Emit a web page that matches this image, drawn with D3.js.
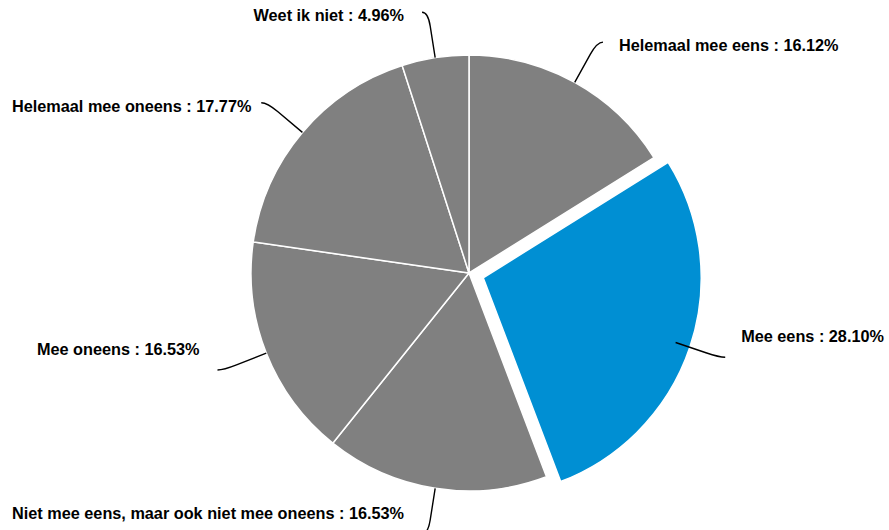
<!DOCTYPE html>
<html>
<head>
<meta charset="utf-8">
<script src="https://cdn.jsdelivr.net/npm/d3@7"></script>
<style>
  html, body { margin: 0; padding: 0; background: #ffffff; }
  svg { display: block; }
  text { font-family: "Liberation Sans", Arial, sans-serif; font-weight: bold; fill: #000; }
</style>
</head>
<body>
<svg id="chart" width="889" height="530"></svg>
<script>
// ---- data ----
const categories = [
  "Helemaal mee eens",
  "Mee eens",
  "Niet mee eens, maar ook niet mee oneens",
  "Mee oneens",
  "Helemaal mee oneens",
  "Weet ik niet"
];
const percentages = [16.12, 28.10, 16.53, 16.53, 17.77, 4.96];
const highlighted = "Mee eens";

// ---- layout ----
const W = 889, H = 530;
const cx = 469, cy = 273, radius = 218;
const slicedOffset = 15;
const labelRadius = 264;
const crook = 6;
const fontSize = 16.25;
const grey = "#808080", blue = "#008fd3";

const svg = d3.select("#chart");
const g = svg.append("g").attr("transform", `translate(${cx},${cy})`);

const data = categories.map((c, i) => ({ category: c, value: percentages[i] }));
const pie = d3.pie().sort(null).value(d => d.value).startAngle(0).endAngle(2 * Math.PI);
const arcs = pie(data);
const arc = d3.arc().innerRadius(0).outerRadius(radius);

const dirOf = a => [Math.sin(a), -Math.cos(a)];

// slices
g.selectAll("path.slice")
  .data(arcs)
  .join("path")
  .attr("class", "slice")
  .attr("d", arc)
  .attr("fill", d => d.data.category === highlighted ? blue : grey)
  .attr("stroke", "#ffffff")
  .attr("stroke-width", 1.5)
  .attr("stroke-linejoin", "round")
  .attr("transform", d => {
    if (d.data.category !== highlighted) return null;
    const m = (d.startAngle + d.endAngle) / 2;
    const [dx, dy] = dirOf(m);
    return `translate(${dx * slicedOffset},${dy * slicedOffset})`;
  });

// connectors + labels
arcs.forEach(d => {
  const m = (d.startAngle + d.endAngle) / 2;
  const [dx, dy] = dirOf(m);
  const right = dx >= 0;
  const upper = dy < 0;
  const E = [dx * radius, dy * radius];
  const P = [dx * (labelRadius - 14), dy * (labelRadius - 14)];
  const C0 = [dx * labelRadius, dy * labelRadius];
  const T = [C0[0] + (right ? crook : -crook), C0[1]];

  g.append("path")
    .attr("d", `M${E[0]},${E[1]}L${P[0]},${P[1]}Q${C0[0]},${C0[1]} ${T[0]},${T[1]}`)
    .attr("fill", "none")
    .attr("stroke", "#000")
    .attr("stroke-width", 1.4);

  const labelCenterY = upper ? T[1] + 3 : T[1] - 21;
  const txt = g.append("text")
    .attr("y", Math.min(labelCenterY, H - cy - 17) + 6)
    .attr("text-anchor", right ? "start" : "end")
    .style("font-size", fontSize + "px")
    .text(`${d.data.category} : ${d.data.value.toFixed(2)}%`);
  const w = txt.node().getComputedTextLength();
  let x = right ? T[0] + 16 : T[0] - 18;
  if (!right && cx + x - w < 12) x = 12 - cx + w;
  if (right && cx + x + w > W - 4) x = W - 4 - cx - w;
  txt.attr("x", x);
});
</script>
</body>
</html>
